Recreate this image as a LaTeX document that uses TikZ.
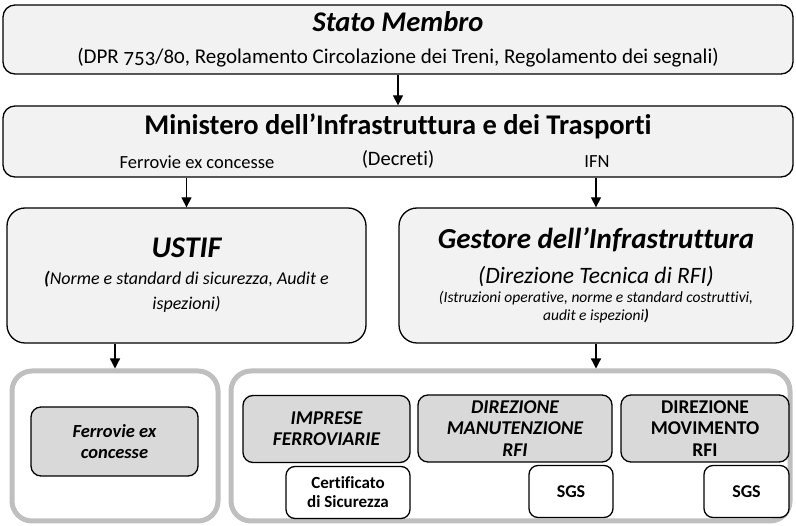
\documentclass[tikz,border=0pt]{standalone}
\usepackage{fontspec}
\setmainfont{Carlito}[Ligatures=NoCommon]
\usetikzlibrary{arrows.meta, positioning}

\begin{document}
\begin{tikzpicture}
	[%
	x=1pt, y=-1pt,
	tier/.style ={rectangle,	draw=black,		fill=black!5,	line width=1.3pt,	rounded corners=12pt,	inner sep=0pt,	align=center},%
	body/.style ={rectangle,	draw=black,		fill=black!5,	line width=1.3pt,	rounded corners=18pt,	inner sep=0pt,	align=center,	minimum height=135pt},%
	group/.style={rectangle,	draw=black!25,	line width=5pt,	rounded corners=20pt,	inner sep=0pt,	minimum height=150pt},%
	unit/.style ={rectangle,	draw=black,		fill=black!15,	line width=1.3pt,	rounded corners=10pt,	inner sep=0pt,	align=center,	minimum height=67pt},%
	doc/.style  ={rectangle,	draw=black,		fill=white,		line width=1.3pt,	rounded corners=9pt,	inner sep=0pt,	align=center,	minimum height=52pt},%
	tag/.style  ={inner sep=0pt,	font=\fontsize{18.5}{20}\selectfont},%
	flow/.style ={-{Triangle[length=10pt, width=10pt]},	line width=1.3pt},%
	]

	\useasboundingbox (0,0) rectangle (796,526);

	% nodes
	\node (stato) at (398,39.5) [tier, minimum width=790pt, minimum height=69pt, font=\fontsize{21}{32.5}\selectfont]
		{{\fontsize{28.5}{30}\selectfont\bfseries\itshape Stato Membro}\\
		(DPR {\addfontfeatures{Numbers=OldStyle}753/80}, Regolamento Circolazione dei Treni, Regolamento dei segnali)};
	\node (ministero) at (398,141.5) [tier, minimum width=790pt, minimum height=71pt, font=\fontsize{20.5}{31}\selectfont]
		{{\fontsize{28.5}{30}\selectfont\bfseries Ministero dell’Infrastruttura e dei Trasporti}\\ (Decreti)};
	\node (tagex)  at (197,162) [tag] {Ferrovie ex concesse};
	\node (tagifn) at (597,162) [tag] {IFN};

	\node (ustif) at (186.5,275.5) [body, minimum width=359pt, font=\fontsize{18}{25}\selectfont\itshape]
		{{\fontsize{30}{30}\selectfont\bfseries USTIF}\\[2pt]
		\textbf{(}Norme e standard di sicurezza, Audit e\\ ispezioni)};
	\node (gestore) at (596,275.5) [body, minimum width=394pt, font=\fontsize{15.5}{18}\selectfont\itshape]
		{{\fontsize{29}{30}\selectfont\bfseries Gestore dell’Infrastruttura}\\[14pt]
		{\fontsize{23.5}{25}\selectfont (Direzione Tecnica di RFI)}\\[1pt]
		(Istruzioni operative, norme e standard costruttivi,\\ audit e ispezioni\textbf{)}};

	\node (exgroup)  at (115,446)   [group, minimum width=206pt] {};
	\node (rfigroup) at (510.5,446) [group, minimum width=559pt] {};

	\node (exconcesse)   at (114.5,441.5) [unit, minimum width=167pt, minimum height=69pt, font=\fontsize{18.5}{21}\selectfont\bfseries\itshape]
		{Ferrovie ex\\ concesse};
	\node (imprese)      at (326.5,429) [unit, minimum width=167pt, font=\fontsize{19.5}{21}\selectfont\bfseries\itshape]
		{IMPRESE\\ FERROVIARIE};
	\node (manutenzione) at (515,428.5) [unit, minimum width=194pt, font=\fontsize{19.5}{21.5}\selectfont\bfseries\itshape]
		{DIREZIONE\\ MANUTENZIONE\\ RFI};
	\node (movimento)    at (705,428.5) [unit, minimum width=168pt, font=\fontsize{19.5}{21.5}\selectfont\bfseries]
		{DIREZIONE\\ MOVIMENTO\\ RFI};

	\node (certificato) at (348,492.5) [doc, minimum width=124pt, font=\fontsize{17}{19}\selectfont\bfseries]
		{Certificato\\ di Sicurezza};
	\node (sgsman) at (571,491.5)   [doc, minimum width=84pt, font=\fontsize{18}{20}\selectfont\bfseries] {SGS};
	\node (sgsmov) at (746.5,491.5) [doc, minimum width=85pt, font=\fontsize{18}{20}\selectfont\bfseries] {SGS};

	% interconnections
	\draw [flow] (stato.south) -- (ministero.north);
	\draw [flow] (ministero.south -| ustif.north)	-- (ustif.north);
	\draw [flow] (ministero.south -| gestore.north)	-- (gestore.north);
	\draw [flow] (ustif.south -| exgroup.north)	-- (exgroup.north);
	\draw [flow] (gestore.south)	-- (gestore.south |- rfigroup.north);

\end{tikzpicture}
\end{document}
